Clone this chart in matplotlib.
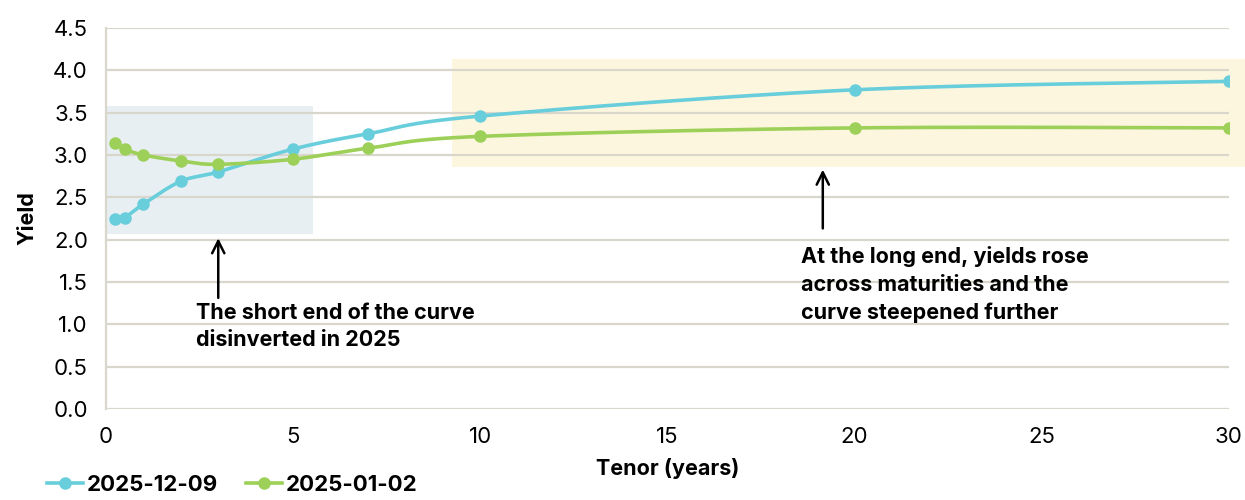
import numpy as np
import matplotlib
matplotlib.use("Agg")
import matplotlib.pyplot as plt
from matplotlib.patches import Rectangle
from matplotlib.lines import Line2D

plt.rcParams['font.family'] = ['Inter', 'DejaVu Sans']

tenors = [0.25, 0.5, 1, 2, 3, 5, 7, 10, 20, 30]
yield_dec = [2.24, 2.26, 2.42, 2.69, 2.80, 3.07, 3.25, 3.46, 3.77, 3.87]
yield_jan = [3.14, 3.07, 3.00, 2.93, 2.89, 2.95, 3.08, 3.22, 3.32, 3.32]
labels = ["2025-12-09", "2025-01-02"]
colors = ["#68CEDB", "#9DD058"]
yticks = [0.0, 0.5, 1.0, 1.5, 2.0, 2.5, 3.0, 3.5, 4.0, 4.5]
xticks = [0, 5, 10, 15, 20, 25, 30]


def smooth(x, y, n=40):
    """Bezier smoothing through the points (spreadsheet-style smoothed line)."""
    x = np.asarray(x, float)
    y = np.asarray(y, float)
    px = np.concatenate([[x[0]], x, [x[-1]]])
    py = np.concatenate([[y[0]], y, [y[-1]]])
    xs, ys = [], []
    for i in range(len(x) - 1):
        p0 = np.array([px[i], py[i]])
        p1 = np.array([px[i + 1], py[i + 1]])
        p2 = np.array([px[i + 2], py[i + 2]])
        p3 = np.array([px[i + 3], py[i + 3]])
        c1 = p1 + (p2 - p0) / 6
        c2 = p2 - (p3 - p1) / 6
        t = np.linspace(0, 1, n)[:, None]
        b = ((1 - t) ** 3) * p1 + 3 * ((1 - t) ** 2) * t * c1 + 3 * (1 - t) * t ** 2 * c2 + t ** 3 * p2
        xs.append(b[:, 0])
        ys.append(b[:, 1])
    return np.concatenate(xs), np.concatenate(ys)


fig = plt.figure(figsize=(12.45, 5), dpi=100)
ax = fig.add_axes([0.0851, 0.182, 0.902, 0.762])
ax.set_xlim(0, 30)
ax.set_ylim(0, 4.5)

# highlight regions
ax.add_patch(Rectangle((0, 2.07), 5.53, 1.51, facecolor="#E8EFF3", edgecolor="none", zorder=0))
ax.add_patch(Rectangle((9.24, 2.86), 21.5, 1.27, facecolor="#FDF6DE", edgecolor="none",
                       zorder=0, clip_on=False))

for yv in yticks:
    ax.axhline(yv, color="#D9D6CC", lw=1.6, zorder=1)

for ys_, c, lab in zip([yield_dec, yield_jan], colors, labels):
    sx, sy = smooth(tenors, ys_)
    ax.plot(sx, sy, color=c, lw=2.6, zorder=3, solid_capstyle="round")
    ax.plot(tenors, ys_, "o", color=c, ms=8, zorder=4)

for s in ["top", "right", "bottom"]:
    ax.spines[s].set_visible(False)
ax.spines["left"].set_color("#D9D6CC")
ax.spines["left"].set_linewidth(1.6)
ax.tick_params(length=0, labelsize=16)
ax.tick_params(axis="y", pad=13)
ax.tick_params(axis="x", pad=13)
ax.set_xticks(xticks)
ax.set_yticks(yticks)
ax.set_yticklabels([f"{v:.1f}" for v in yticks])
ax.set_xticklabels([str(v) for v in xticks])

ax.set_xlabel("Tenor (years)", fontsize=15.5, fontweight="bold", labelpad=8)
ax.set_ylabel("Yield", fontsize=15.5, fontweight="bold", labelpad=11)

# annotations
ax.annotate("", xy=(3.0, 2.05), xytext=(3.0, 1.28),
            arrowprops=dict(arrowstyle="->", color="black", lw=1.8, mutation_scale=22))
ax.text(2.4, 1.25, "The short end of the curve\ndisinverted in 2025", fontsize=15.5,
        fontweight="bold", ha="left", va="top", linespacing=1.45)
ax.annotate("", xy=(19.15, 2.86), xytext=(19.15, 2.1),
            arrowprops=dict(arrowstyle="->", color="black", lw=1.8, mutation_scale=22))
ax.text(18.57, 1.92, "At the long end, yields rose\nacross maturities and the\ncurve steepened further",
        fontsize=15.5, fontweight="bold", ha="left", va="top", linespacing=1.45)

handles = [Line2D([], [], color=c, lw=2.6, marker="o", ms=8) for c in colors]
fig.legend(handles, labels, loc="lower left", bbox_to_anchor=(0.022, -0.03), ncol=2,
           frameon=False, prop={"weight": "bold", "size": 16}, handlelength=1.6,
           handletextpad=0.15, columnspacing=1.3)

fig.savefig("out.png", dpi=100)
